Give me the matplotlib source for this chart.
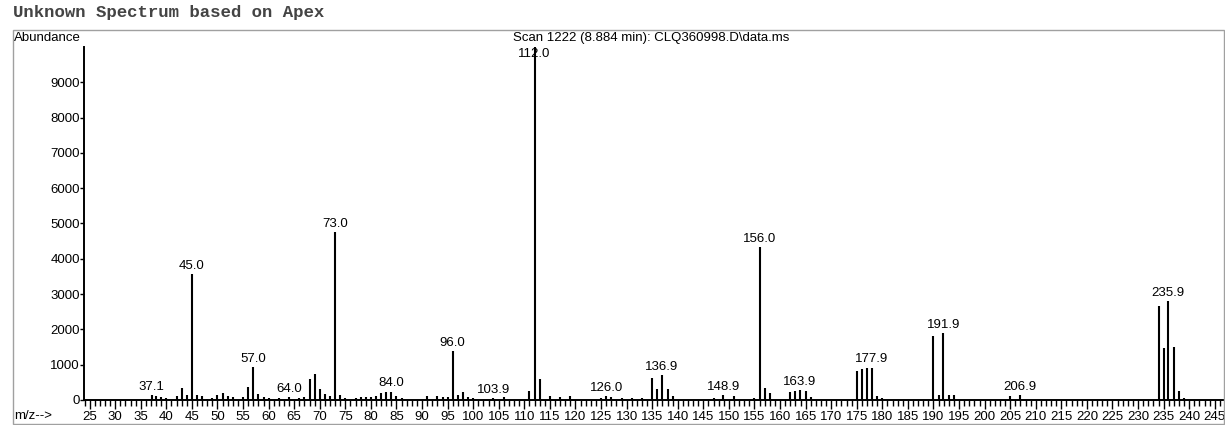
import matplotlib.pyplot as plt
from matplotlib.ticker import MultipleLocator, FixedLocator

# peak list: m/z and abundance
mz = [37.1, 38, 39, 40, 42, 43, 44, 45.0, 46, 47, 48, 49, 50, 51, 52, 53,
      55, 56, 57.0, 58, 59, 60, 62, 64.0, 66, 67, 68, 69, 70, 71, 72, 73.0, 74,
      75, 77, 78, 79, 80, 81, 82, 83, 84.0, 85, 86,
      91, 93, 94, 95, 96.0, 97, 98, 99, 100, 103.9, 106,
      111, 112.0, 113, 115, 117, 119, 125, 126.0, 127, 129, 131, 133,
      135, 136, 136.9, 138, 139, 147, 148.9, 151, 155, 156.0, 157, 158,
      162, 163, 163.9, 165, 166, 175, 176, 177, 177.9, 179, 180,
      190, 191, 191.9, 193, 194, 205, 206.9,
      234, 235, 235.9, 237, 238, 239]
abundance = [150, 100, 80, 50, 110, 340, 150, 3560, 140, 100, 40, 60, 150, 200, 110, 80,
             80, 360, 940, 170, 80, 50, 50, 80, 60, 90, 600, 740, 300, 170, 100, 4750, 140,
             50, 70, 80, 80, 90, 110, 210, 220, 240, 110, 50,
             100, 110, 80, 80, 1380, 150, 220, 80, 50, 60, 80,
             260, 9990, 590, 100, 80, 110, 60, 110, 90, 50, 60, 60,
             630, 310, 710, 310, 100, 60, 130, 100, 60, 4330, 340, 200,
             230, 260, 270, 260, 80, 830, 870, 915, 920, 100, 70,
             1810, 130, 1890, 130, 130, 110, 130,
             2670, 1460, 2800, 1500, 260, 60]
labeled_mz = [37.1, 45.0, 57.0, 64.0, 73.0, 84.0, 96.0, 103.9, 112.0, 126.0,
              136.9, 148.9, 156.0, 163.9, 177.9, 191.9, 206.9, 235.9]
y_ticks = [0, 1000, 2000, 3000, 4000, 5000, 6000, 7000, 8000, 9000]

W, H = 1225, 425
fig = plt.figure(figsize=(W / 100, H / 100), dpi=100)
ax = fig.add_axes([84 / W, 25 / H, (W - 84) / W, 353 / H])

ax.vlines(mz, 0, abundance, color='black', lw=1.5)
ax.set_xlim(23.9, 247.0)
ax.set_ylim(0, 10000)

for m in labeled_mz:
    a = abundance[mz.index(m)]
    if a > 9500:
        ax.annotate(f"{m:.1f}", (m, 10000), xytext=(0, -1), textcoords='offset points',
                    ha='center', va='top', fontsize=9.5, family='Liberation Sans')
    else:
        ax.annotate(f"{m:.1f}", (m, a), xytext=(0, 1.5), textcoords='offset points',
                    ha='center', va='bottom', fontsize=9.5, family='Liberation Sans')

for s in ['top', 'right']:
    ax.spines[s].set_visible(False)
ax.spines['left'].set_linewidth(1.4)
ax.spines['bottom'].set_linewidth(1.4)

ax.xaxis.set_major_locator(MultipleLocator(5))
ax.xaxis.set_minor_locator(MultipleLocator(1))
ax.yaxis.set_major_locator(FixedLocator(y_ticks))
ax.tick_params(axis='x', which='major', length=6.5, width=1, labelsize=9.5, pad=1.5)
ax.tick_params(axis='x', which='minor', length=4.5, width=1)
ax.tick_params(axis='y', which='major', length=3, width=1, labelsize=9.5, pad=0)
for lab in ax.get_xticklabels() + ax.get_yticklabels():
    lab.set_family('Liberation Sans')

# outer frame and header texts
fig.add_artist(plt.Rectangle((13 / W, 1 / H), (W - 14) / W, (425 - 30 - 1) / H,
                             transform=fig.transFigure, fill=False,
                             edgecolor='#a0a0a0', lw=1))
fig.text(13 / W, 1 - 12 / H, "Unknown Spectrum based on Apex", family='Liberation Mono',
         fontsize=12.5, fontweight='bold', va='center', color='#444444')
fig.text(14 / W, 1 - 38 / H, "Abundance", family='Liberation Sans', fontsize=9.5, va='center')
fig.text(513 / W, 1 - 38 / H, "Scan 1222 (8.884 min): CLQ360998.D\\data.ms",
         family='Liberation Sans', fontsize=9.5, va='center')
fig.text(14 / W, 1 - 416 / H, "m/z-->", family='Liberation Sans', fontsize=9.5, va='center')

fig.savefig("out.png", dpi=100)
